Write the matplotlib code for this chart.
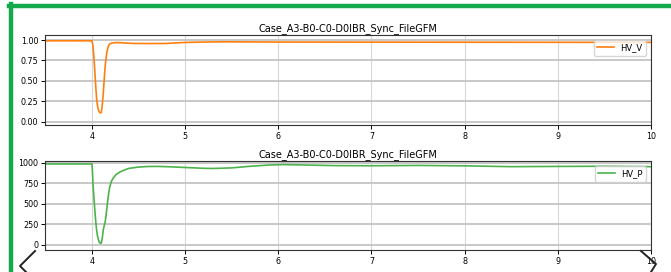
import matplotlib
matplotlib.use('Agg')
import matplotlib.pyplot as plt
from matplotlib.lines import Line2D

TITLE = 'Case_A3-B0-C0-D0IBR_Sync_FileGFM'

# HV_V (pu)
t_v = [3.5, 4.0, 4.01, 4.02, 4.03, 4.04, 4.05, 4.06, 4.07, 4.08, 4.09, 4.10,
       4.11, 4.12, 4.13, 4.14, 4.15, 4.16, 4.17, 4.18, 4.19, 4.21, 4.25, 4.3,
       4.35, 4.45, 4.6, 4.8, 4.9, 5.0, 5.2, 5.4, 5.6, 6.0, 7.0, 8.0, 9.0, 10.0]
hv_v = [0.99, 0.99, 0.93, 0.80, 0.63, 0.44, 0.28, 0.19, 0.145, 0.12, 0.11, 0.115,
        0.20, 0.33, 0.50, 0.66, 0.77, 0.85, 0.90, 0.935, 0.952, 0.962, 0.968, 0.968,
        0.963, 0.958, 0.957, 0.958, 0.965, 0.970, 0.975, 0.978, 0.977, 0.975, 0.974,
        0.973, 0.972, 0.971]

# HV_P
t_p = [3.5, 4.0, 4.005, 4.01, 4.02, 4.03, 4.04, 4.05, 4.06, 4.07, 4.08, 4.09,
       4.10, 4.11, 4.12, 4.13, 4.14, 4.15, 4.16, 4.17, 4.18, 4.19, 4.21, 4.23,
       4.26, 4.3, 4.35, 4.4, 4.5, 4.6, 4.7, 4.8, 5.0, 5.2, 5.3, 5.5, 5.7, 5.9,
       6.05, 6.3, 6.6, 7.0, 7.5, 8.0, 8.5, 9.0, 9.5, 10.0]
hv_p = [988, 988, 900, 760, 590, 430, 290, 180, 105, 60, 32, 20,
        25, 80, 175, 230, 270, 350, 450, 550, 640, 705, 780, 820,
        860, 890, 915, 935, 950, 957, 958, 955, 945, 935, 933, 940, 960, 975,
        980, 975, 968, 966, 970, 965, 955, 958, 960, 955]

W, H = 671, 272
fig = plt.figure(figsize=(W / 100, H / 100), dpi=100)

ax1 = fig.add_axes([45.4 / W, 1 - 125 / H, (651 - 45.4) / W, 90 / H])
ax2 = fig.add_axes([45.4 / W, 1 - 250 / H, (651 - 45.4) / W, 89 / H])

for ax, t, y, col, lab, yl, yt in [
        (ax1, t_v, hv_v, '#ff7f0e', 'HV_V', (-0.037, 1.061), [0.0, 0.25, 0.5, 0.75, 1.0]),
        (ax2, t_p, hv_p, '#4cb34c', 'HV_P', (-61, 1024), [0, 250, 500, 750, 1000])]:
    ax.plot(t, y, color=col, lw=1.2, label=lab)
    ax.set_xlim(3.5, 10)
    ax.set_ylim(*yl)
    ax.set_yticks(yt)
    ax.set_xticks([4, 5, 6, 7, 8, 9, 10])
    ax.grid(True, axis='x', color='#d8d8d8', lw=0.8)
    ax.grid(True, axis='y', color='#c4c4c4', lw=1.3)
    ax.set_axisbelow(True)
    ax.tick_params(labelsize=5.8, length=3, width=0.7, pad=2)
    for s in ax.spines.values():
        s.set_linewidth(0.8)
        s.set_color('#333333')
    ax.set_title(TITLE, fontsize=7, pad=3)
    ax.legend(loc='upper right', fontsize=6, borderaxespad=0.6, framealpha=0.8)

ax1.set_yticklabels(['0.00', '0.25', '0.50', '0.75', '1.00'])

# screenshot frame and carousel arrows
green = '#14aa4c'
fig.add_artist(Line2D([9 / W, 1], [1 - 6 / H, 1 - 6 / H], color=green, lw=3.2,
                      transform=fig.transFigure))
fig.add_artist(Line2D([11 / W, 11 / W], [0, 1 - 4 / H], color=green, lw=3.2,
                      transform=fig.transFigure))
fig.add_artist(Line2D([35 / W, 20 / W, 26 / W], [1 - 251 / H, 1 - 266 / H, 1 - 272 / H],
                      color='#222222', lw=1.4, transform=fig.transFigure))
fig.add_artist(Line2D([641 / W, 656 / W, 651 / W], [1 - 251 / H, 1 - 264 / H, 1 - 272 / H],
                      color='#222222', lw=1.4, transform=fig.transFigure))

fig.savefig('out.png', dpi=100)
